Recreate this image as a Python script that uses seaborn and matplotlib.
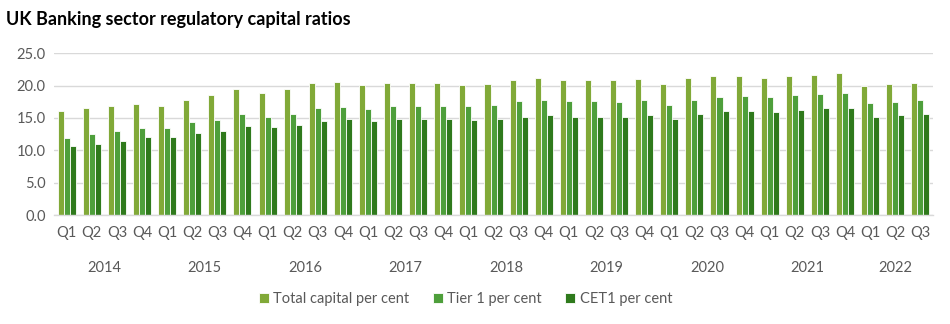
import matplotlib
matplotlib.use("Agg")
import matplotlib.pyplot as plt
import seaborn as sns
import pandas as pd
from matplotlib.transforms import blended_transform_factory

years = ["2014", "2015", "2016", "2017", "2018", "2019", "2020", "2021", "2022"]
quarters = ["Q1", "Q2", "Q3", "Q4"]
periods = [f"{y} {q}" for y in years for q in quarters][:35]
quarter_labels = [p.split()[1] for p in periods]

total_capital = [16.0, 16.5, 16.9, 17.2, 16.9, 17.8, 18.5, 19.5,
                 18.9, 19.4, 20.4, 20.6, 20.1, 20.4, 20.4, 20.4,
                 20.1, 20.3, 20.8, 21.2, 20.9, 20.9, 20.8, 21.0,
                 20.3, 21.1, 21.5, 21.5, 21.1, 21.5, 21.6, 21.9,
                 19.9, 20.3, 20.4]
tier1 = [11.9, 12.5, 13.0, 13.4, 13.4, 14.3, 14.7, 15.6,
         15.1, 15.6, 16.5, 16.7, 16.4, 16.9, 16.9, 16.9,
         16.8, 17.0, 17.6, 17.8, 17.6, 17.6, 17.5, 17.8,
         17.0, 17.8, 18.2, 18.4, 18.2, 18.5, 18.7, 18.9,
         17.3, 17.5, 17.7]
cet1 = [10.7, 11.0, 11.4, 12.0, 12.0, 12.7, 13.0, 13.8,
        13.6, 13.9, 14.6, 14.9, 14.6, 14.8, 14.8, 14.8,
        14.7, 14.9, 15.2, 15.4, 15.2, 15.2, 15.1, 15.4,
        14.9, 15.6, 16.0, 16.1, 15.9, 16.2, 16.5, 16.5,
        15.2, 15.4, 15.6]
series_names = ["Total capital per cent", "Tier 1 per cent", "CET1 per cent"]
colors = ["#86bc25", "#43b02a", "#26890d"]

df = pd.DataFrame({
    "period": periods * 3,
    "value": total_capital + tier1 + cet1,
    "series": [series_names[0]] * 35 + [series_names[1]] * 35 + [series_names[2]] * 35,
})

sns.set_theme(style="white")
plt.rcParams["font.family"] = ["Lato", "DejaVu Sans"]

fig = plt.figure(figsize=(9.5, 3.24), dpi=100)
ax = fig.add_axes([0.057, 0.336, 0.925, 0.5])

sns.barplot(data=df, x="period", y="value", hue="series", order=periods,
            hue_order=series_names, palette=colors, width=0.72,
            edgecolor="white", linewidth=0.6, ax=ax, legend=True)

ax.set_ylim(0, 25)
ax.set_yticks([0, 5, 10, 15, 20, 25])
ax.set_yticklabels([f"{v:.1f}" for v in [0, 5, 10, 15, 20, 25]])
ax.set_xlim(-0.5, 34.5)
ax.set_xticks(range(35))
ax.set_xticklabels(quarter_labels)
ax.set_xlabel("")
ax.set_ylabel("")
ax.yaxis.grid(True, color="#d9d9d9", linewidth=1)
ax.set_axisbelow(True)
for s in ["top", "right", "left"]:
    ax.spines[s].set_visible(False)
ax.spines["bottom"].set_color("#d9d9d9")
ax.spines["bottom"].set_linewidth(1)
ax.tick_params(axis="both", length=0, labelsize=10.5, colors="#595959", pad=8)
ax.tick_params(axis="y", pad=6)

trans = blended_transform_factory(ax.transData, fig.transFigure)
for i, y in enumerate(years):
    idx = [k for k, p in enumerate(periods) if p.startswith(y)]
    xc = (idx[0] + idx[-1]) / 2
    ax.text(xc, 1 - 268 / 324, y, transform=trans, ha="center", va="center",
            fontsize=10.5, color="#595959")

handles, labels = ax.get_legend_handles_labels()
ax.legend_.remove()
fig.legend(handles, labels, loc="center", bbox_to_anchor=(0.49, 1 - 299 / 324),
           ncol=3, frameon=False, fontsize=10.5, labelcolor="#595959",
           handlelength=0.7, handleheight=0.7, handletextpad=0.3, columnspacing=1.6)

fig.text(0.006, 1 - 19 / 324, "UK Banking sector regulatory capital ratios",
         fontsize=13, fontweight="bold", color="black", ha="left", va="center")

fig.savefig("out.png", dpi=100, facecolor="white")
